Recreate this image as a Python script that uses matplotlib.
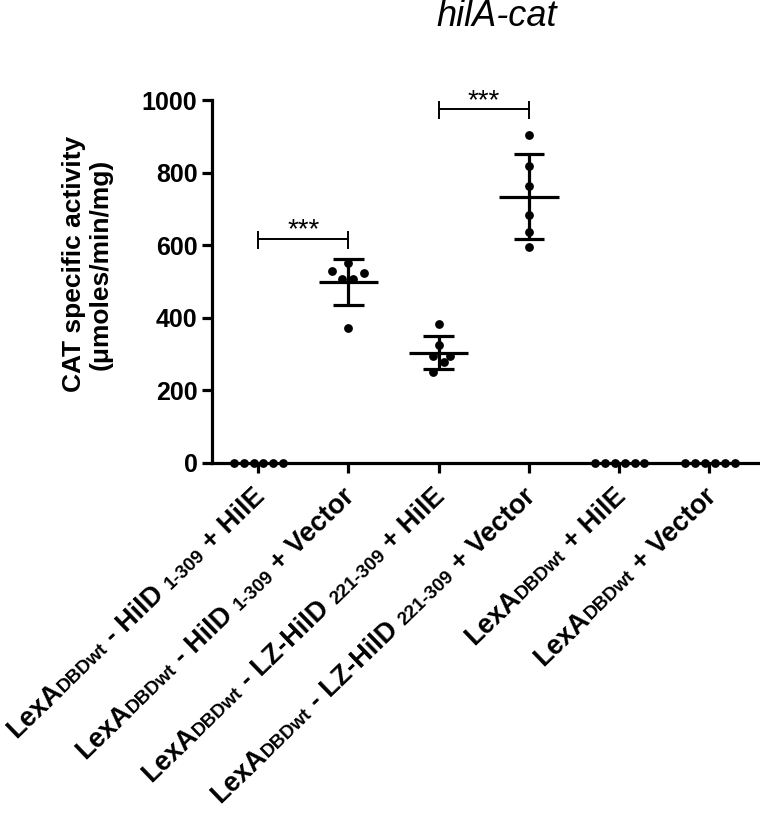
import matplotlib
matplotlib.use("Agg")
import matplotlib.pyplot as plt
import numpy as np
from matplotlib.transforms import IdentityTransform

plt.rcParams['font.family'] = ['Liberation Sans', 'DejaVu Sans']

# ---------------- data ----------------
label_pieces = [
    [("LexA", "b"), ("DBDwt", "s"), (" - HilD ", "b"), ("1-309", "s"), (" + HilE", "b")],
    [("LexA", "b"), ("DBDwt", "s"), (" - HilD ", "b"), ("1-309", "s"), (" + Vector", "b")],
    [("LexA", "b"), ("DBDwt", "s"), (" - LZ-HilD ", "b"), ("221-309", "s"), (" + HilE", "b")],
    [("LexA", "b"), ("DBDwt", "s"), (" - LZ-HilD ", "b"), ("221-309", "s"), (" + Vector", "b")],
    [("LexA", "b"), ("DBDwt", "s"), (" + HilE", "b")],
    [("LexA", "b"), ("DBDwt", "s"), (" + Vector", "b")],
]
g1 = [0, 0, 0, 0, 0, 0]
g2 = [530, 550, 506, 506, 523, 373]
g3 = [383, 326, 294, 277, 294, 250]
g4 = [904, 819, 763, 682, 636, 596]
g5 = [0, 0, 0, 0, 0, 0]
g6 = [0, 0, 0, 0, 0, 0]
groups = [g1, g2, g3, g4, g5, g6]
yticks = [0, 200, 400, 600, 800, 1000]
sig_pairs = [(1, 2, 617, "***"), (3, 4, 974, "***")]

# horizontal scatter offsets (layout)
zero_off = [-0.27, -0.16, -0.05, 0.06, 0.17, 0.28]
offsets = [
    zero_off,
    [-0.185, 0.0, -0.074, 0.056, 0.178, 0.0],
    [0.0, 0.0, -0.067, 0.056, 0.122, -0.067],
    [0, 0, 0, 0, 0, 0],
    zero_off,
    zero_off,
]

W, H = 760, 816
fig = plt.figure(figsize=(W / 100, H / 100), dpi=100)
ax = fig.add_axes([212 / W, (H - 463) / H, (W - 212) / W, (463 - 100) / H])

lw = 2.3
for i, (vals, off) in enumerate(zip(groups, offsets)):
    x = i + 1
    vals = np.array(vals, float)
    ax.scatter(x + np.array(off), vals, s=40, color='black', zorder=3, clip_on=False, linewidths=0)
    m = vals.mean()
    sd = vals.std(ddof=1)
    if sd > 0:
        ax.plot([x - 0.33, x + 0.33], [m, m], color='black', lw=lw, solid_capstyle='butt')
        ax.plot([x, x], [m - sd, m + sd], color='black', lw=lw, solid_capstyle='butt')
        for yy in (m - sd, m + sd):
            ax.plot([x - 0.17, x + 0.17], [yy, yy], color='black', lw=lw, solid_capstyle='butt')

for a, b, yv, txt in sig_pairs:
    ax.plot([a, b], [yv, yv], color='black', lw=1.4, clip_on=False)
    for xx in (a, b):
        ax.plot([xx, xx], [yv - 24, yv + 20], color='black', lw=1.4, clip_on=False)
    ax.text((a + b) / 2, yv + 4, txt, ha='center', va='baseline', fontsize=20, clip_on=False)

ax.set_xlim(0.49, 6.56)
ax.set_ylim(0, 1000)
ax.set_yticks(yticks)
ax.set_yticklabels([str(v) for v in yticks], fontsize=18, fontweight='bold')
ax.set_xticks(range(1, 7))
ax.set_xticklabels([])
for s in ['top', 'right']:
    ax.spines[s].set_visible(False)
for s in ['left', 'bottom']:
    ax.spines[s].set_linewidth(2.3)
ax.tick_params(axis='both', length=7.5, width=2.3, pad=3)

fig.text(87 / W, 1 - 264 / H, "CAT specific activity\n(\u03bcmoles/min/mg)", rotation=90,
         fontsize=19, fontweight='bold', ha='center', va='center', linespacing=1.15,
         multialignment='center')
fig.text(497 / W, 1 - 26 / H, "hilA-cat", style='italic', fontsize=26, ha='center', va='baseline')

# ---------- rotated mixed-size tick labels ----------
big, small = 19.5, 13.8
rot = 44
fig.canvas.draw()
renderer = fig.canvas.get_renderer()

def advance(s, size):
    t1 = fig.text(0, 0, "|" + s + "|", fontsize=size, fontweight='bold')
    t2 = fig.text(0, 0, "||", fontsize=size, fontweight='bold')
    w = t1.get_window_extent(renderer).width - t2.get_window_extent(renderer).width
    t1.remove(); t2.remove()
    return w

ang = np.deg2rad(rot)
c, s_ = np.cos(ang), np.sin(ang)
dx_end, dy_end = 8, -35
for i, pieces in enumerate(label_pieces):
    ex, ey = ax.transData.transform((i + 1, 0))
    ex += dx_end; ey += dy_end
    sizes = [big if k == 'b' else small for _, k in pieces]
    widths = [advance(t, sz) for (t, _), sz in zip(pieces, sizes)]
    total = sum(widths)
    px, py = ex - total * c, ey - total * s_
    cum = 0
    for (t, k), sz, w in zip(pieces, sizes, widths):
        fig.text(px + cum * c, py + cum * s_, t, transform=IdentityTransform(),
                 fontsize=sz, fontweight='bold', rotation=rot, rotation_mode='anchor',
                 ha='left', va='baseline')
        cum += w

fig.savefig("out.png", dpi=100)
